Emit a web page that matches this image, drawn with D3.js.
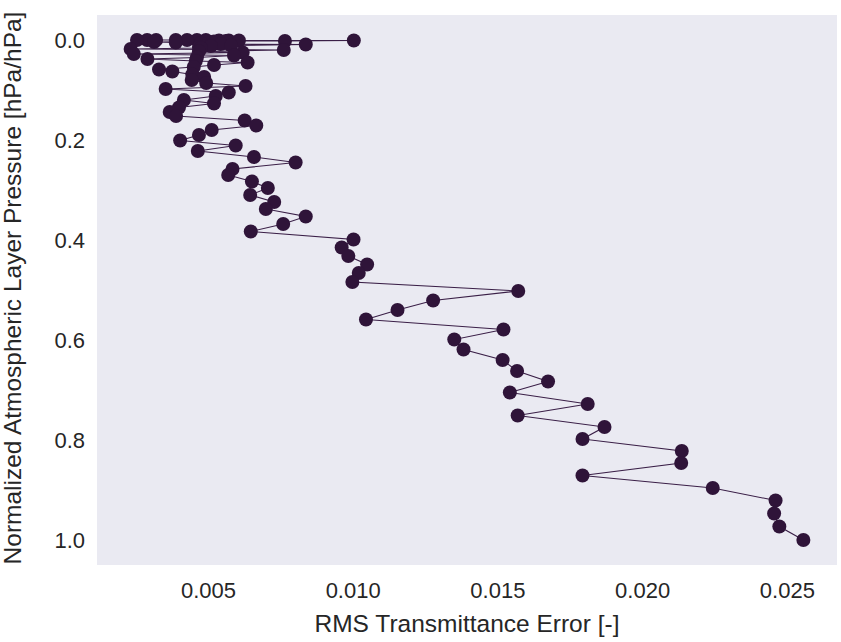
<!DOCTYPE html>
<html>
<head>
<meta charset="utf-8">
<script src="https://cdn.jsdelivr.net/npm/d3@7"></script>
<style>
  body { margin: 0; background: #fff; }
  .tick-label { font-family: "Liberation Sans", Arial, sans-serif; font-size: 22px; fill: #262626; }
  .axis-label { font-family: "Liberation Sans", Arial, sans-serif; font-size: 24.5px; fill: #262626; }
</style>
</head>
<body>
<div id="chart"></div>
<script>
// normalized layer pressure (top of atmosphere -> surface)
const pressure = [
  0.000, 0.000, 0.000, 0.000, 0.000, 0.000, 0.000, 0.001, 0.001, 0.001,
  0.001, 0.002, 0.002, 0.003, 0.003, 0.004, 0.005, 0.006, 0.007, 0.008,
  0.009, 0.011, 0.012, 0.014, 0.016, 0.018, 0.020, 0.023, 0.025, 0.028,
  0.031, 0.035, 0.038, 0.042, 0.045, 0.050, 0.054, 0.059, 0.063, 0.069,
  0.074, 0.080, 0.086, 0.092, 0.098, 0.105, 0.112, 0.120, 0.127, 0.135,
  0.144, 0.152, 0.161, 0.171, 0.180, 0.190, 0.201, 0.211, 0.222, 0.234,
  0.245, 0.258, 0.270, 0.283, 0.296, 0.310, 0.324, 0.338, 0.353, 0.368,
  0.383, 0.399, 0.415, 0.432, 0.449, 0.466, 0.484, 0.502, 0.521, 0.540,
  0.559, 0.579, 0.599, 0.619, 0.640, 0.662, 0.683, 0.705, 0.728, 0.751,
  0.774, 0.798, 0.822, 0.846, 0.871, 0.896, 0.921, 0.947, 0.973, 1.000
];

// RMS transmittance error per layer
const rmsError = [
  0.00321, 0.00290, 0.00255, 0.00389, 0.00462, 0.00428, 0.00493, 0.00538, 0.00572, 0.00607,
  0.01004, 0.00766, 0.00562, 0.00521, 0.00490, 0.00314, 0.00389, 0.00476, 0.00521, 0.00544,
  0.00838, 0.00580, 0.00510, 0.00469, 0.00476, 0.00233, 0.00762, 0.00469, 0.00620, 0.00244,
  0.00590, 0.00462, 0.00291, 0.00458, 0.00637, 0.00521, 0.00451, 0.00331, 0.00377, 0.00446,
  0.00487, 0.00444, 0.00494, 0.00630, 0.00354, 0.00572, 0.00527, 0.00417, 0.00521, 0.00400,
  0.00368, 0.00390, 0.00627, 0.00667, 0.00513, 0.00469, 0.00404, 0.00596, 0.00465, 0.00659,
  0.00803, 0.00585, 0.00570, 0.00652, 0.00707, 0.00646, 0.00729, 0.00700, 0.00838, 0.00760,
  0.00648, 0.01003, 0.00962, 0.00985, 0.01050, 0.01021, 0.00999, 0.01572, 0.01278, 0.01155,
  0.01046, 0.01521, 0.01351, 0.01383, 0.01518, 0.01568, 0.01675, 0.01543, 0.01812, 0.01570,
  0.01870, 0.01794, 0.02137, 0.02135, 0.01794, 0.02244, 0.02461, 0.02456, 0.02474, 0.02557
];

const xTicks = [0.005, 0.010, 0.015, 0.020, 0.025];
const yTicks = [0.0, 0.2, 0.4, 0.6, 0.8, 1.0];

const width = 841, height = 642;
const margin = {top: 15, right: 4, bottom: 77, left: 97};
const innerW = width - margin.left - margin.right;
const innerH = height - margin.top - margin.bottom;

const data = pressure.map((p, i) => ({p: p, err: rmsError[i]}));

const svg = d3.select('#chart').append('svg')
  .attr('width', width)
  .attr('height', height);

const g = svg.append('g')
  .attr('transform', `translate(${margin.left},${margin.top})`);

// matplotlib style 5% padding around the data
const xExt = d3.extent(rmsError);
const xPad = (xExt[1] - xExt[0]) * 0.05;
const xScale = d3.scaleLinear()
  .domain([xExt[0] - xPad, xExt[1] + xPad])
  .range([0, innerW]);

const yScale = d3.scaleLinear()
  .domain([-0.05, 1.05])
  .range([0, innerH]);   // pressure grows downward

g.append('rect')
  .attr('width', innerW)
  .attr('height', innerH)
  .attr('fill', '#eaeaf2');

// axes without lines or tick marks
const xAxis = d3.axisBottom(xScale).tickValues(xTicks).tickSize(0).tickPadding(17)
  .tickFormat(d3.format('.3f'));
const yAxis = d3.axisLeft(yScale).tickValues(yTicks).tickSize(0).tickPadding(12)
  .tickFormat(d3.format('.1f'));

const xAxisG = g.append('g')
  .attr('transform', `translate(0,${innerH})`)
  .call(xAxis);
const yAxisG = g.append('g').call(yAxis);

[xAxisG, yAxisG].forEach(a => {
  a.select('.domain').remove();
  a.selectAll('text').attr('class', 'tick-label').attr('fill', null);
});

// connecting line
const line = d3.line()
  .x(d => xScale(d.err))
  .y(d => yScale(d.p));

g.append('path')
  .datum(data)
  .attr('fill', 'none')
  .attr('stroke', '#3a1f47')
  .attr('stroke-width', 1.1)
  .attr('d', line);

// markers
g.selectAll('circle')
  .data(data)
  .enter().append('circle')
    .attr('cx', d => xScale(d.err))
    .attr('cy', d => yScale(d.p))
    .attr('r', 7)
    .attr('fill', '#2f1439');

// axis labels
g.append('text')
  .attr('class', 'axis-label')
  .attr('text-anchor', 'middle')
  .attr('x', innerW / 2)
  .attr('y', innerH + 67)
  .text('RMS Transmittance Error [-]');

g.append('text')
  .attr('class', 'axis-label')
  .attr('text-anchor', 'middle')
  .attr('transform', 'rotate(-90)')
  .attr('x', -innerH / 2 + 2)
  .attr('y', -76)
  .text('Normalized Atmospheric Layer Pressure [hPa/hPa]');
</script>
</body>
</html>
